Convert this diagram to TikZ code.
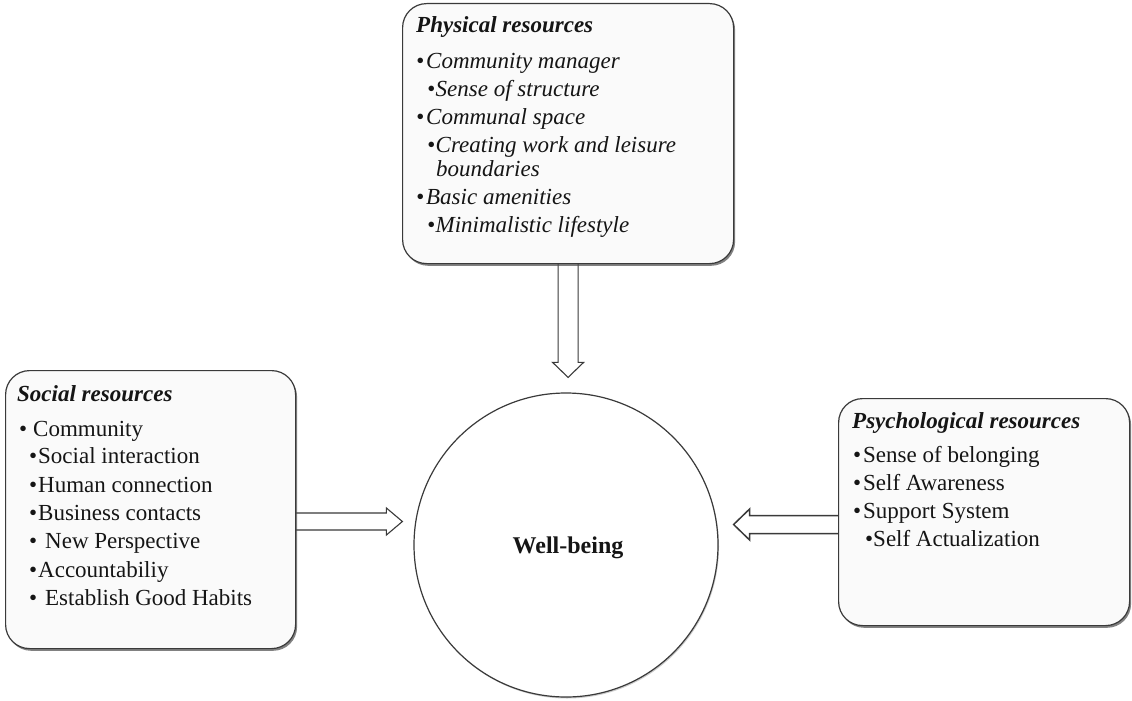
\documentclass[tikz,border=0pt]{standalone}
\usepackage{fontspec}
\setmainfont{Liberation Serif}
\usetikzlibrary{calc,shadows,backgrounds}
\definecolor{edge}{HTML}{3A3A3A}
\definecolor{boxfill}{HTML}{FAFAFA}
\definecolor{ink}{HTML}{151515}
\newcommand{\bulletgap}[1]{\makebox[#1pt][l]{\textbullet}}
\begin{document}
\begin{tikzpicture}[x=1pt,y=-1pt,
  resbox/.style={draw=edge, line width=1.2pt, fill=boxfill, rounded corners=24pt,
    anchor=north west, inner sep=0pt,
    drop shadow={shadow xshift=1.5pt, shadow yshift=-2.2pt, fill=black!70, opacity=0.7}},
  txt/.style={anchor=base west, inner sep=0pt, text=ink, font=\fontsize{23}{28}\selectfont},
  ttl/.style={txt, font=\fontsize{23}{28}\selectfont\bfseries\itshape},
  hollow/.style={draw=edge, line width=1.1pt, fill=white, line join=miter},
  wellcircle/.style={circle, draw=edge, line width=1.2pt, fill=white, inner sep=0pt,
    minimum size=304pt,
    drop shadow={shadow xshift=1pt, shadow yshift=-1.5pt, fill=black!40, opacity=0.5}}]
\useasboundingbox (0,0) rectangle (1132,701);

% resource boxes
\node[resbox, minimum width=331pt, minimum height=260pt] (phys) at (402,3) {};
\node[resbox, minimum width=290pt, minimum height=278pt] (soc) at (5,370) {};
\node[resbox, minimum width=291pt, minimum height=227pt] (psy) at (838,398) {};

% central circle
\node[wellcircle] (well) at (566,545) {};
\node[txt, anchor=base, font=\fontsize{24}{28}\selectfont\bfseries] (welltxt) at (568,553) {Well-being};

% physical resources
\node[ttl] (physttl) at (416,33) {Physical resources};
\foreach \bx/\gap/\y/\t [count=\i] in {
  416/10/68/Community manager,
  427/8.5/96/Sense of structure,
  416/10/124/Communal space,
  427/8.5/152/Creating work and leisure,
  416/10/204/Basic amenities,
  427/8.5/232/Minimalistic lifestyle}
  \node[txt, font=\fontsize{23}{28}\selectfont\itshape] (phys\i) at (\bx,\y) {\bulletgap{\gap}\t};
\node[txt, font=\fontsize{23}{28}\selectfont\itshape] (physwrap) at (436,176) {boundaries};

% social resources
\node[ttl] (socttl) at (17,401) {Social resources};
\foreach \bx/\gap/\y/\t [count=\i] in {
  19/14/436/Community,
  29/9/463/Social interaction,
  29/9/492/Human connection,
  29/9/520/Business contacts,
  29/16/548/New Perspective,
  29/9/577/Accountabiliy,
  29/16/605/Establish Good Habits}
  \node[txt] (soc\i) at (\bx,\y) {\bulletgap{\gap}\t};

% psychological resources
\node[ttl] (psyttl) at (852,428) {Psychological resources};
\foreach \bx/\gap/\y/\t [count=\i] in {
  853/10/462/Sense of belonging,
  853/10/490/Self Awareness,
  853/10/518/Support System,
  865/8/546/Self Actualization}
  \node[txt] (psy\i) at (\bx,\y) {\bulletgap{\gap}\t};

% hollow block arrows into the circle, kept behind the boxes
\coordinate (ptip) at ($(phys.south |- well.north)+(0,-15)$);
\coordinate (stip) at ($(well.west)+(-11,-23.5)$);
\coordinate (qtip) at ($(well.east)+(15,-20.5)$);
\begin{pgfonlayer}{background}
\fill[white] (0,0) rectangle (1132,701);
\draw[hollow] ($(phys.south)+(-10,0)$) -- ($(ptip)+(-10,-15)$) -- ($(ptip)+(-15.5,-15)$)
  -- (ptip) -- ($(ptip)+(15.5,-15)$) -- ($(ptip)+(10,-15)$) -- ($(phys.south)+(10,0)$);
\draw[hollow] ($(soc.east |- stip)+(0,-8.5)$) -- ($(stip)+(-16,-8.5)$) -- ($(stip)+(-16,-13.5)$)
  -- (stip) -- ($(stip)+(-16,13.5)$) -- ($(stip)+(-16,8.5)$) -- ($(soc.east |- stip)+(0,8.5)$);
\draw[hollow, line width=1.5pt] ($(psy.west |- qtip)+(0,-9)$) -- ($(qtip)+(16,-9)$) -- ($(qtip)+(16,-15.5)$)
  -- (qtip) -- ($(qtip)+(16,15.5)$) -- ($(qtip)+(16,9)$) -- ($(psy.west |- qtip)+(0,9)$);
\end{pgfonlayer}
\end{tikzpicture}
\end{document}
